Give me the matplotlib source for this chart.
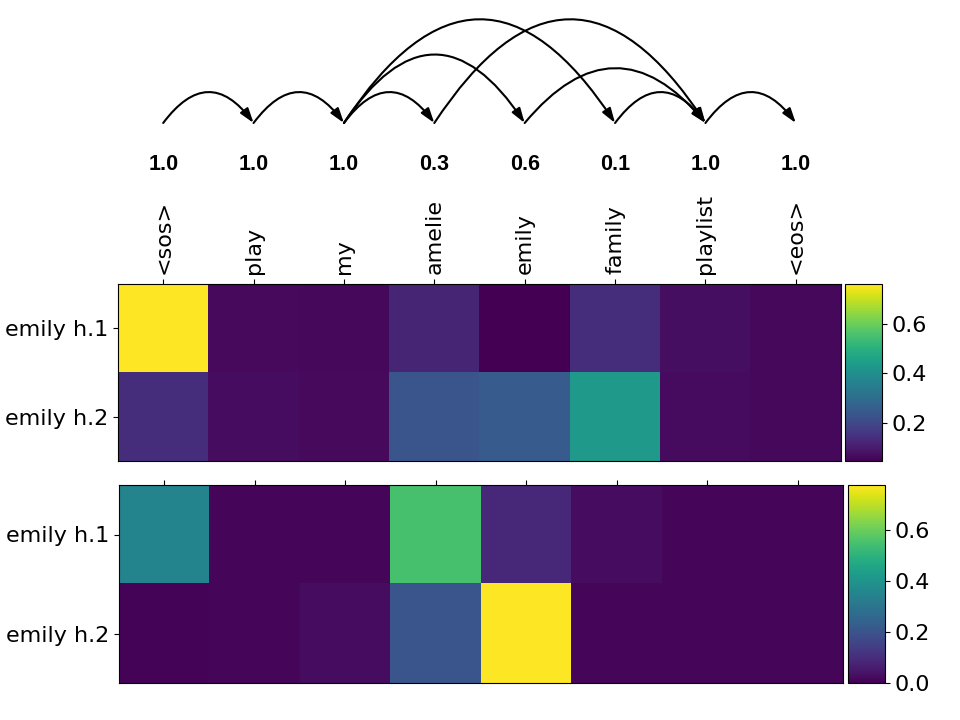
import matplotlib
matplotlib.use("Agg")
import matplotlib.pyplot as plt
from matplotlib.ticker import MultipleLocator
import numpy as np

# ---------------- data ----------------
tokens = ["<sos>", "play", "my", "amelie", "emily", "family", "playlist", "<eos>"]
row_labels = ["emily h.1", "emily h.2"]
node_scores = [1.0, 1.0, 1.0, 0.3, 0.6, 0.1, 1.0, 1.0]
edges = [(0, 1), (1, 2), (2, 3), (2, 4), (2, 5), (3, 6), (4, 6), (5, 6), (6, 7)]

top_h1 = [0.763, 0.062, 0.060, 0.118, 0.045, 0.140, 0.072, 0.060]
top_h2 = [0.140, 0.068, 0.064, 0.235, 0.250, 0.430, 0.066, 0.060]
bot_h1 = [0.350, 0.012, 0.012, 0.550, 0.085, 0.025, 0.015, 0.015]
bot_h2 = [0.008, 0.010, 0.025, 0.205, 0.776, 0.010, 0.010, 0.010]

# ---------------- style ----------------
edge_rad = [0.67, 0.67, 0.67, 0.75, 0.76, 0.76, 0.60, 0.67, 0.67]
W, H = 960, 720

def fr(x0, y0, x1, y1):
    return [x0 / W, 1 - y1 / H, (x1 - x0) / W, (y1 - y0) / H]

fig = plt.figure(figsize=(9.6, 7.2), dpi=100)
fs = 16

# arcs
ax_arc = fig.add_axes(fr(118, 0, 841, 180))
ax_arc.set_xlim(-0.5, len(tokens) - 0.5)
ax_arc.set_ylim(180, 0)
ax_arc.axis("off")
node_y = 123
for (s, d), r in zip(edges, edge_rad):
    ax_arc.annotate("", xy=(d, node_y), xytext=(s, node_y),
                    arrowprops=dict(arrowstyle="-|>,head_length=0.4,head_width=0.13",
                                    connectionstyle=f"arc3,rad={-r}",
                                    lw=1.5, color="black", mutation_scale=22,
                                    shrinkA=0, shrinkB=0))
for i, v in enumerate(node_scores):
    ax_arc.text(i, 164, f"{v:.1f}", ha="center", va="center",
                fontsize=15.5, fontweight="bold", family="Liberation Sans")

# top heatmap
ax1 = fig.add_axes(fr(118, 284, 841, 461))
top = np.array([top_h1, top_h2])
im1 = ax1.imshow(top, cmap="viridis", aspect="auto")
ax1.set_xticks(range(len(tokens)))
ax1.set_xticklabels(tokens, rotation=90, fontsize=fs)
ax1.xaxis.tick_top()
ax1.set_yticks(range(len(row_labels)))
ax1.set_yticklabels(row_labels, fontsize=fs)
cax1 = fig.add_axes(fr(845, 284, 882, 461))
cb1 = fig.colorbar(im1, cax=cax1)
cb1.ax.yaxis.set_major_locator(MultipleLocator(0.2))
cb1.ax.tick_params(labelsize=fs)

# bottom heatmap
ax2 = fig.add_axes(fr(119, 485, 843, 683))
bot = np.array([bot_h1, bot_h2])
im2 = ax2.imshow(bot, cmap="viridis", aspect="auto", vmin=0.0)
ax2.set_xticks(range(len(tokens)))
ax2.set_xticklabels([])
ax2.xaxis.tick_top()
ax2.set_yticks(range(len(row_labels)))
ax2.set_yticklabels(row_labels, fontsize=fs)
cax2 = fig.add_axes(fr(848, 485, 885, 683))
cb2 = fig.colorbar(im2, cax=cax2)
cb2.ax.yaxis.set_major_locator(MultipleLocator(0.2))
cb2.ax.tick_params(labelsize=fs)

fig.savefig("out.png", dpi=100)
